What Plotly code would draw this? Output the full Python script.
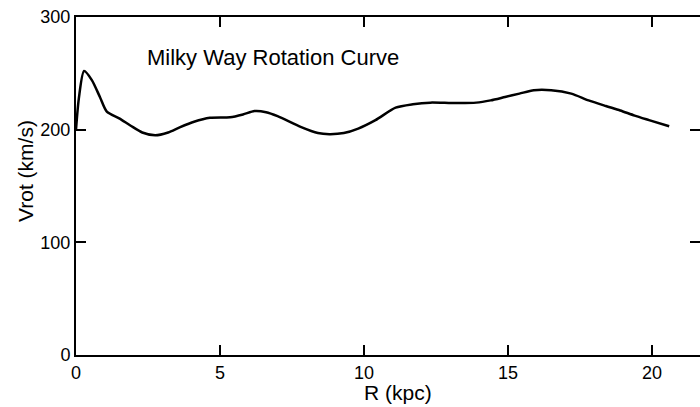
import plotly.graph_objects as go

r_kpc = [0.0, 0.1, 0.28, 0.55, 0.83, 1.07, 1.5, 1.9, 2.3, 2.75, 3.2, 3.6, 4.1, 4.65, 5.35, 5.8, 6.2, 6.6, 7.0, 7.8, 8.4, 8.8, 9.3, 9.8, 10.4, 11.1, 11.7, 12.3, 12.8, 13.3, 13.9, 14.4, 14.9, 15.4, 15.9, 16.5, 17.2, 17.8, 18.4, 18.9, 19.4, 19.9, 20.6]
v_rot = [200, 228, 252, 244, 229, 216, 210, 203.5, 197.5, 195, 197.5, 202, 207, 210.5, 211, 213.5, 216.5, 215.5, 212, 202.5, 197, 196, 197, 201, 208.5, 219.5, 222.5, 224, 223.8, 223.6, 224, 226, 229, 232, 235, 235, 232, 226, 221, 217, 212.5, 208.5, 203]

x_ticks = [0, 5, 10, 15, 20]
y_ticks = [0, 100, 200, 300]

fig = go.Figure()
fig.add_trace(go.Scatter(x=r_kpc, y=v_rot, mode="lines",
                         line=dict(color="black", width=2.5, shape="spline", smoothing=0.7),
                         hoverinfo="skip", showlegend=False))

FONT = "Liberation Sans, Arial, Helvetica, sans-serif"
L, T, B = 76, 17, 52
PW, PH = 700 - L, 407 - T - B

def px(xp):
    return (xp - L) / PW

def py(yp):
    return (407 - B - yp) / PH

fig.update_layout(
    width=700, height=407,
    margin=dict(l=L, r=0, t=T, b=B, autoexpand=False),
    paper_bgcolor="white", plot_bgcolor="white",
    font=dict(family=FONT, size=18, color="black"),
    xaxis=dict(range=[0, 21.67], tickvals=x_ticks, ticks="inside", ticklen=10, tickwidth=1.5,
               tickcolor="black", showline=True, linecolor="black", linewidth=2, mirror="ticks",
               showgrid=False, zeroline=False, automargin=False, tickfont=dict(size=18)),
    yaxis=dict(range=[0, 300], tickvals=y_ticks, ticks="inside", ticklen=10, tickwidth=1.5,
               tickcolor="black", showline=True, linecolor="black", linewidth=2, mirror="ticks",
               showgrid=False, zeroline=False, automargin=False, tickfont=dict(size=18)),
    annotations=[
        dict(text="Milky Way Rotation Curve", x=px(145), y=py(57), xref="paper", yref="paper",
             xanchor="left", yanchor="middle", showarrow=False, font=dict(size=22)),
        dict(text="R (kpc)", x=px(398), y=py(392), xref="paper", yref="paper",
             xanchor="center", yanchor="middle", showarrow=False, font=dict(size=21)),
        dict(text="Vrot (km/s)", x=px(25), y=py(171), xref="paper", yref="paper",
             xanchor="center", yanchor="middle", textangle=-90, showarrow=False, font=dict(size=21)),
    ],
)

fig.write_html("out.html", config={"displayModeBar": False},
               post_script="document.body.style.margin='0';document.body.style.overflow='hidden';")
